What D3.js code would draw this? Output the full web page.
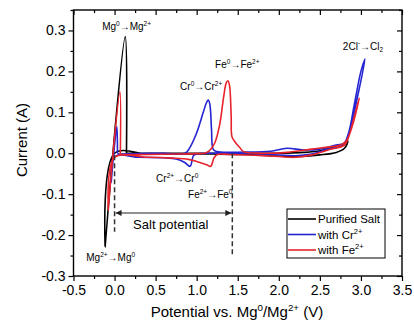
<!DOCTYPE html>
<html>
<head>
<meta charset="utf-8">
<script src="https://d3js.org/d3.v7.min.js"></script>
<style>
body { margin: 0; background: #fff; }
svg { font-family: "Liberation Sans", Arial, sans-serif; }
</style>
</head>
<body>
<div id="plot"></div>
<script>
// axis ticks
var xTicks = [-0.5, 0.0, 0.5, 1.0, 1.5, 2.0, 2.5, 3.0, 3.5];
var yTicks = [-0.3, -0.2, -0.1, 0.0, 0.1, 0.2, 0.3];

// purified salt (black)
var pureV = [0.145, 0.5, 1.0, 1.5, 2.0, 2.3, 2.5, 2.6, 2.7, 2.78, 2.84, 2.8, 2.7, 2.5, 2.2, 1.9, 1.6, 1.2, 0.8, 0.4, 0.0, -0.115, 0.13, 0.145];
var pureI = [0.0, 0.0, 0.0, 0.0, 0.0, 0.002, 0.006, 0.012, 0.018, 0.022, 0.03, 0.012, 0.002, -0.004, -0.008, -0.006, -0.003, -0.002, -0.002, -0.002, 0.0, -0.229, 0.285, 0.0];

// with Cr2+ (blue)
var crV = [0.035, 0.3, 0.6, 0.86, 0.92, 1.0, 1.08, 1.12, 1.14, 1.16, 1.18, 1.2, 1.24, 1.6, 1.9, 2.1, 2.3, 2.5, 2.7, 2.8, 2.86, 2.95, 3.05, 3.0, 2.92, 2.85, 2.78, 2.6, 2.4, 2.2, 1.9, 1.5, 1.2, 1.0, 0.96, 0.92, 0.85, 0.75, 0.6, 0.3, 0.0, -0.04, 0.028, 0.035];
var crI = [-0.002, -0.001, 0.0, 0.0, 0.015, 0.05, 0.1, 0.124, 0.13, 0.12, 0.06, 0.01, 0.004, 0.003, 0.005, 0.012, 0.008, 0.01, 0.02, 0.024, 0.05, 0.13, 0.23, 0.2, 0.12, 0.05, 0.02, 0.01, -0.002, -0.006, -0.003, 0.0, 0.0, -0.002, -0.006, -0.032, -0.022, -0.014, -0.011, -0.01, -0.008, -0.07, 0.065, 0.0];

// with Fe2+ (red)
var feV = [0.07, 0.4, 0.8, 1.0, 1.1, 1.15, 1.22, 1.28, 1.33, 1.36, 1.38, 1.4, 1.42, 1.43, 1.47, 1.52, 1.57, 1.8, 2.1, 2.4, 2.6, 2.75, 2.82, 2.9, 2.98, 2.92, 2.85, 2.8, 2.6, 2.4, 2.2, 2.0, 1.7, 1.4, 1.25, 1.21, 1.17, 1.12, 1.0, 0.9, 0.7, 0.4, 0.0, -0.077, 0.065, 0.07];
var feI = [-0.004, -0.003, -0.002, -0.001, 0.0, 0.005, 0.025, 0.07, 0.14, 0.172, 0.177, 0.165, 0.09, 0.04, 0.027, 0.015, 0.004, 0.0, 0.002, 0.01, 0.015, 0.02, 0.03, 0.07, 0.135, 0.09, 0.04, 0.02, 0.008, -0.004, -0.01, -0.008, -0.005, -0.003, -0.003, -0.012, -0.032, -0.028, -0.02, -0.015, -0.012, -0.01, -0.01, -0.139, 0.15, -0.004];

var seriesNames = ["Purified Salt", "with Cr^{2+}", "with Fe^{2+}"];
var seriesColors = ["#000000", "#2424d2", "#e8232b"];

// annotations: text, potential, current (baseline-left)
var noteText = ["Mg^{0}→Mg^{2+}", "2Cl^{-}→Cl_{2}", "Fe^{0}→Fe^{2+}", "Cr^{0}→Cr^{2+}", "Cr^{2+}→Cr^{0}", "Fe^{2+}→Fe^{0}", "Mg^{2+}→Mg^{0}"];
var noteV = [-0.151, 2.78, 1.224, 0.798, 0.506, 0.895, -0.345];
var noteI = [0.301, 0.253, 0.209, 0.155, -0.070, -0.109, -0.263];

// salt potential window
var windowV = [0.0, 1.434];

var width = 414, height = 324;
var svg = d3.select("#plot").append("svg")
  .attr("width", width).attr("height", height);

var x = d3.scaleLinear().domain([-0.5, 3.5]).range([73.5, 402]);
var y = d3.scaleLinear().domain([-0.3, 0.35]).range([276, 10]);

function minor(ticks, step) {
  var out = [];
  for (var i = 0; i < ticks.length - 1; i++) out.push(+(ticks[i] + step).toFixed(3));
  return out;
}
var xMinor = minor(xTicks, 0.25);
var yMinor = minor(yTicks, 0.05).concat([0.35]);

function rich(sel, str, size) {
  var parts = str.split(/(\^\{[^}]*\}|_\{[^}]*\})/).filter(function(s){ return s.length; });
  var shift = 0;
  parts.forEach(function(p) {
    var s = 0, txt = p;
    if (p[0] === "^") { s = -0.42 * size; txt = p.slice(2, -1); }
    else if (p[0] === "_") { s = 0.25 * size; txt = p.slice(2, -1); }
    var ts = sel.append("tspan").text(txt).attr("dy", s - shift);
    if (s !== 0) ts.attr("font-size", size * 0.65);
    shift = s;
  });
  return sel;
}

function styleAxis(g) {
  g.select(".domain").remove();
  g.selectAll(".tick line").attr("stroke", "#000").attr("stroke-width", 1.2);
  g.selectAll(".tick text").attr("fill", "#000").attr("font-size", 14)
    .attr("font-family", "Liberation Sans, Arial, sans-serif");
}
var fmt = function(d) { return d.toFixed(1); };

// bottom
svg.append("g").attr("transform", "translate(0,276)")
  .call(d3.axisBottom(x).tickValues(xTicks).tickSize(5).tickPadding(4).tickFormat(fmt)).call(styleAxis);
svg.append("g").attr("transform", "translate(0,276)")
  .call(d3.axisBottom(x).tickValues(xMinor).tickSize(3).tickFormat("")).call(styleAxis);
// left
svg.append("g").attr("transform", "translate(73.5,0)")
  .call(d3.axisLeft(y).tickValues(yTicks).tickSize(5).tickPadding(3).tickFormat(fmt)).call(styleAxis);
svg.append("g").attr("transform", "translate(73.5,0)")
  .call(d3.axisLeft(y).tickValues(yMinor).tickSize(3).tickFormat("")).call(styleAxis);
// top (inward)
svg.append("g").attr("transform", "translate(0,10)")
  .call(d3.axisTop(x).tickValues(xTicks).tickSize(-5).tickFormat("")).call(styleAxis);
svg.append("g").attr("transform", "translate(0,10)")
  .call(d3.axisTop(x).tickValues(xMinor).tickSize(-3).tickFormat("")).call(styleAxis);
// right (inward)
svg.append("g").attr("transform", "translate(402,0)")
  .call(d3.axisRight(y).tickValues(yTicks).tickSize(-5).tickFormat("")).call(styleAxis);
svg.append("g").attr("transform", "translate(402,0)")
  .call(d3.axisRight(y).tickValues(yMinor).tickSize(-3).tickFormat("")).call(styleAxis);

// frame
svg.append("rect").attr("x", 73.5).attr("y", 10).attr("width", 402 - 73.5).attr("height", 266)
  .attr("fill", "none").attr("stroke", "#000").attr("stroke-width", 1.4);

// axis titles
rich(svg.append("text").attr("x", 237).attr("y", 317).attr("text-anchor", "middle").attr("font-size", 15),
  "Potential vs. Mg^{0}/Mg^{2+} (V)", 15);
svg.append("text").attr("transform", "translate(27,140) rotate(-90)")
  .attr("text-anchor", "middle").attr("font-size", 15).text("Current (A)");

// curves
var line = d3.line().x(function(d){ return x(d[0]); }).y(function(d){ return y(d[1]); })
  .curve(d3.curveCatmullRom.alpha(0.5));
var series = [d3.zip(pureV, pureI), d3.zip(crV, crI), d3.zip(feV, feI)];
svg.append("g").selectAll("path").data(series).enter().append("path")
  .attr("d", line)
  .attr("fill", "none")
  .attr("stroke", function(d, i){ return seriesColors[i]; })
  .attr("stroke-width", 1.6)
  .attr("stroke-linejoin", "round");

// salt potential marker
var defs = svg.append("defs");
defs.append("marker").attr("id", "ah").attr("viewBox", "0 0 10 10").attr("refX", 10).attr("refY", 5)
  .attr("markerWidth", 5).attr("markerHeight", 5).attr("orient", "auto-start-reverse")
  .append("path").attr("d", "M0,0 L10,5 L0,10 z").attr("fill", "#222");
var dashG = svg.append("g").attr("stroke", "#333").attr("stroke-width", 1.5).attr("stroke-dasharray", "5,3");
dashG.append("line").attr("x1", x(windowV[0])).attr("x2", x(windowV[0])).attr("y1", y(-0.005)).attr("y2", y(-0.192));
dashG.append("line").attr("x1", x(windowV[1])).attr("x2", x(windowV[1])).attr("y1", y(0.0)).attr("y2", y(-0.253));
svg.append("line").attr("x1", x(windowV[0]) + 1).attr("x2", x(windowV[1]) - 1)
  .attr("y1", y(-0.146)).attr("y2", y(-0.146))
  .attr("stroke", "#222").attr("stroke-width", 1.2)
  .attr("marker-start", "url(#ah)").attr("marker-end", "url(#ah)");
svg.append("text").attr("x", x(0.226)).attr("y", y(-0.185)).attr("font-size", 13).text("Salt potential");

// annotations
noteText.forEach(function(t, i) {
  rich(svg.append("text").attr("x", x(noteV[i])).attr("y", y(noteI[i])).attr("font-size", 10), t, 10);
});

// legend
var lg = svg.append("g");
lg.append("rect").attr("x", 287).attr("y", 209).attr("width", 98).attr("height", 49)
  .attr("fill", "#fff").attr("stroke", "#000").attr("stroke-width", 1);
seriesNames.forEach(function(n, i) {
  var yy = 219 + i * 15.5;
  lg.append("line").attr("x1", 288).attr("x2", 316).attr("y1", yy).attr("y2", yy)
    .attr("stroke", seriesColors[i]).attr("stroke-width", 1.6);
  rich(lg.append("text").attr("x", 318).attr("y", yy + 4).attr("font-size", 11.5), n, 11.5);
});
</script>
</body>
</html>
